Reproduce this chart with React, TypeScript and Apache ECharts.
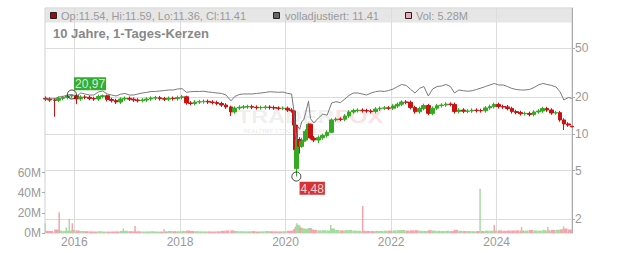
import React, { useEffect, useRef } from 'react';
import * as echarts from 'echarts';

const FONT = '"Liberation Sans", Arial, Helvetica, sans-serif';

// ---- data ----
const dates = [
  '2015-06-15','2015-07-15','2015-08-20','2015-09-15','2015-10-15','2015-11-15','2015-12-15',
  '2016-01-15','2016-02-15','2016-03-15','2016-04-15','2016-05-15','2016-06-15','2016-07-15','2016-08-15','2016-09-15','2016-10-15','2016-11-15','2016-12-15',
  '2017-01-15','2017-02-15','2017-03-15','2017-04-15','2017-05-15','2017-06-15','2017-07-15','2017-08-15','2017-09-15','2017-10-15','2017-11-15','2017-12-15',
  '2018-01-15','2018-02-15','2018-03-15','2018-04-15','2018-05-15','2018-06-15','2018-07-15','2018-08-15','2018-09-15','2018-10-15','2018-11-15','2018-12-20',
  '2019-01-15','2019-02-15','2019-03-15','2019-04-15','2019-05-15','2019-06-15','2019-07-15','2019-08-15','2019-09-15','2019-10-15','2019-11-15','2019-12-15',
  '2020-01-15','2020-02-12','2020-02-28','2020-03-09','2020-03-16','2020-03-26','2020-04-08','2020-04-22','2020-05-06','2020-05-20','2020-06-08','2020-06-22',
  '2020-07-15','2020-08-15','2020-09-15','2020-10-15','2020-11-15','2020-12-15',
  '2021-01-15','2021-02-15','2021-03-15','2021-04-15','2021-05-15','2021-06-15','2021-07-15','2021-08-15','2021-09-15','2021-10-15','2021-11-15','2021-12-15',
  '2022-01-15','2022-02-15','2022-03-15','2022-04-15','2022-05-15','2022-06-15','2022-07-15','2022-08-15','2022-09-15','2022-10-15','2022-11-15','2022-12-15',
  '2023-01-15','2023-02-15','2023-03-15','2023-04-15','2023-05-15','2023-06-15','2023-07-15','2023-08-15','2023-09-15','2023-10-15','2023-11-15','2023-12-15',
  '2024-01-15','2024-02-15','2024-03-15','2024-04-15','2024-05-15','2024-06-15','2024-07-15','2024-08-15','2024-09-15','2024-10-15','2024-11-15','2024-12-15',
  '2025-01-15','2025-02-15','2025-03-15','2025-04-10','2025-05-10','2025-06-04',
];

// [open, close, low, high]
const ohlc = [
  [19.5,19.26,18.6,20.2],[19.26,18.9,18.25,19.9],[18.9,18.8,13.8,19.6],[18.8,19.5,18.15,20.2],[19.5,19.8,18.8,20.5],[19.8,20.4,19.1,20.8],[20.4,20.6,19.7,20.97],
  [20.6,19.3,17.5,20.9],[19.3,20.0,18.6,20.7],[20.0,19.9,19.2,20.7],[19.9,19.45,18.8,20.6],[19.45,19.26,18.6,20.1],[19.26,20.2,18.6,20.9],[20.2,20.5,19.5,20.95],[20.5,19.1,18.4,20.9],[19.1,18.7,18.05,19.75],[18.7,18.2,17.55,19.35],[18.2,19.26,17.55,19.9],[19.26,19.5,18.6,20.2],
  [19.5,19.2,18.55,20.2],[19.2,18.9,18.25,19.85],[18.9,18.7,18.05,19.55],[18.7,18.9,18.05,19.55],[18.9,19.26,18.25,19.9],[19.26,19.6,18.6,20.25],[19.6,19.7,18.9,20.4],[19.7,19.4,18.7,20.4],[19.4,19.2,18.55,20.05],[19.2,19.5,18.55,20.2],[19.5,19.4,18.7,20.2],[19.4,19.8,18.7,20.5],
  [19.8,20.1,19.1,20.8],[20.1,17.9,17.3,20.5],[17.9,17.7,17.1,18.5],[17.7,18.2,17.1,18.85],[18.2,18.3,17.55,18.95],[18.3,18.45,17.65,19.1],[18.45,18.2,17.55,19.1],[18.2,18.0,17.4,18.85],[18.0,17.7,17.1,18.65],[17.7,17.2,16.6,18.3],[17.2,16.6,16.0,17.8],[16.6,15.1,14.0,17.0],
  [15.1,16.25,14.6,16.8],[16.25,16.5,15.7,17.1],[16.5,16.6,15.9,17.2],[16.6,16.7,16.0,17.3],[16.7,16.5,15.9,17.3],[16.5,16.35,15.8,17.1],[16.35,16.4,15.8,17.0],[16.4,16.57,15.8,17.15],[16.57,16.4,15.8,17.15],[16.4,16.25,15.7,17.0],[16.25,16.15,15.6,16.8],[16.15,16.2,15.6,16.75],
  [16.2,15.66,15.1,16.75],[15.66,15.4,14.9,16.2],[15.4,11.8,11.5,15.5],[11.8,7.4,6.1,12.0],[5.2,7.4,4.48,7.8],[7.4,9.0,6.3,9.4],[9.0,7.9,6.9,9.4],[7.9,8.7,7.7,9.3],[8.7,8.9,8.3,9.6],[8.9,10.5,8.7,10.9],[10.5,12.0,10.2,12.3],[12.0,9.25,9.0,12.1],
  [9.25,8.9,8.55,9.6],[8.9,9.3,8.4,9.7],[9.3,9.7,8.95,10.05],[9.7,10.3,9.35,10.7],[10.3,13.0,10.1,13.4],[13.0,13.2,12.55,13.65],
  [13.2,13.15,12.7,13.65],[13.15,14.0,12.7,14.5],[14.0,15.1,13.5,15.6],[15.1,15.5,14.6,16.05],[15.5,15.6,14.95,16.15],[15.6,15.5,14.95,16.15],[15.5,15.37,14.85,16.05],[15.37,15.2,14.65,15.9],[15.2,15.96,14.65,16.5],[15.96,16.2,15.4,16.75],[16.2,16.3,15.65,16.85],[16.3,16.2,15.65,16.85],
  [16.2,16.9,15.65,17.5],[16.9,17.45,16.3,18.05],[17.45,18.2,16.85,18.8],[18.2,18.1,17.45,18.85],[18.1,16.4,15.85,18.7],[16.4,15.15,14.6,16.95],[15.15,16.1,14.6,16.65],[16.1,17.05,15.55,17.65],[17.05,14.7,14.2,17.6],[14.7,16.2,14.2,16.75],[16.2,17.0,15.65,17.6],[17.0,17.2,16.4,17.8],
  [17.2,17.5,16.6,18.1],[17.5,17.4,16.8,18.1],[17.4,15.2,14.65,18.0],[15.2,15.66,14.65,16.2],[15.66,15.3,14.75,16.2],[15.3,15.37,14.75,15.9],[15.37,15.6,14.85,16.15],[15.6,15.5,14.95,16.15],[15.5,15.45,14.9,16.05],[15.45,16.3,14.9,16.85],[16.3,16.7,15.75,17.3],[16.7,17.4,16.1,18.0],
  [17.4,16.7,16.1,18.0],[16.7,16.6,16.0,17.3],[16.6,16.1,15.55,17.2],[16.1,15.2,14.65,16.65],[15.2,14.95,14.45,15.75],[14.95,14.6,14.1,15.45],[14.6,14.7,14.1,15.2],[14.7,14.4,13.9,15.2],[14.4,15.1,13.9,15.6],[15.1,15.37,14.6,15.9],[15.37,16.1,14.85,16.65],[16.1,15.66,15.1,16.65],
  [15.66,14.8,14.3,16.2],[14.8,14.9,14.3,15.4],[14.9,13.0,12.55,15.4],[13.0,12.05,10.75,13.4],[12.05,11.8,11.4,12.45],[11.54,11.41,11.36,11.59],
];

const adjusted = [
  19.26,19.3,19.4,20.0,20.2,20.77,20.97,
  20.3,21.56,21.17,20.77,20.77,21.98,22.39,21.17,20.77,20.38,21.05,21.4,
  20.77,20.77,21.17,21.56,21.8,22.2,22.2,22.39,22.6,22.82,22.82,23.26,
  23.4,21.85,22.1,22.2,22.2,22.3,21.98,21.8,21.56,21.4,20.77,18.6,
  20.2,20.97,21.17,21.17,21.17,21.4,21.56,21.8,22.1,21.98,21.85,21.98,
  21.4,21.17,15.5,10.5,8.7,11.5,10.9,12.6,13.0,15.0,18.5,13.3,
  12.27,13.48,14.5,14.2,17.87,18.3,
  18.0,19.26,20.6,21.56,21.56,21.17,20.77,21.56,22.1,22.39,22.2,22.6,
  23.26,24.37,25.3,24.85,23.1,21.56,23.5,24.37,20.38,23.26,24.37,24.6,
  25.3,24.37,21.56,22.82,22.5,22.3,22.5,23.05,23.69,24.37,25.07,25.8,
  25.07,25.07,24.37,23.5,23.05,22.82,22.82,23.05,23.9,25.07,25.8,25.3,
  24.85,24.14,21.98,18.9,19.8,19.5,
];

// typical daily volume per period, in millions
const volumeM = [
  2.2,2.0,3.5,2.5,2.0,2.2,3.0,
  2.5,2.0,1.8,1.6,1.5,1.8,1.5,1.4,1.5,1.6,2.0,2.2,
  1.8,1.6,1.7,1.5,1.6,1.8,1.5,1.4,1.6,2.0,1.8,1.7,
  2.0,2.4,2.0,1.8,1.7,1.6,1.6,1.5,1.7,2.2,2.5,2.6,
  2.0,1.8,1.7,1.7,1.9,1.6,1.7,2.0,1.8,1.7,1.6,1.8,
  2.2,2.4,4.0,6.0,8.0,6.5,5.0,4.5,4.0,4.2,5.0,3.5,
  3.0,2.6,2.8,2.5,4.5,3.0,
  2.6,2.8,3.0,2.4,2.2,2.2,2.0,1.9,2.1,2.0,2.3,2.4,
  2.6,2.8,3.0,2.4,2.6,2.8,2.2,2.0,2.8,2.4,2.2,2.0,
  2.2,2.0,3.2,2.2,2.0,1.9,1.8,1.9,2.0,2.4,2.2,2.4,
  2.6,2.2,2.4,2.4,2.6,2.5,2.4,3.0,2.6,2.4,2.8,2.6,
  3.0,3.2,3.6,4.5,3.5,3.0,
];

// single-day volume spikes
const spikeDates = ['2015-06-13','2015-09-18','2015-11-06','2015-11-27','2015-12-18','2016-12-05','2017-02-24','2017-09-12','2020-03-20','2020-11-09','2021-06-18','2023-09-08','2023-12-15','2024-06-21','2024-12-20','2025-04-07'];
const spikeVolM = [9.6,20.6,5.5,14.1,9.7,4.5,6.9,3.8,9.6,7.9,26.8,44.0,8.0,6.0,6.0,6.5];
const spikeUp = [true,false,true,true,false,true,false,true,true,true,false,true,false,true,true,true];

const priceTicks = [2, 5, 10, 20, 50];
const yearTicks = ['2016-01-01', '2018-01-01', '2020-01-01', '2022-01-01', '2024-01-01'];
const xMin = '2015-06-12';
const xMax = '2025-06-05';

const extremes = [
  { date: '2015-12-15', value: 20.97, label: '20,97', bg: '#009900', offset: [7.2, -12.2] },
  { date: '2020-03-16', value: 4.48, label: '4,48', bg: '#cc0000', offset: [8.2, 10.2] },
];

const headerTexts = ['Op:11.54, Hi:11.59, Lo:11.36, Cl:11.41', 'volladjustiert: 11.41', 'Vol: 5.28M'];
const headerColors = ['#b30000', '#666666', '#f2a6b0'];
const subtitle = '10 Jahre, 1-Tages-Kerzen';

const UP = '#33aa22';
const DOWN = '#cc1111';
const VOL_UP = '#a6dba0';
const VOL_DOWN = '#f4a4ac';

const ts = (d: string) => Date.parse(d + 'T00:00:00Z');

export default function App() {
  const ref = useRef<HTMLDivElement>(null);
  useEffect(() => {
    if (!ref.current) return;
    const chart = echarts.init(ref.current, undefined, { renderer: 'svg' });

    const candleData = dates.map((d, i) => [ts(d), ohlc[i][0], ohlc[i][1], ohlc[i][2], ohlc[i][3]]);
    const adjData = dates.map((d, i) => [ts(d), adjusted[i]]);
    const volData = dates.map((d, i) => ({
      value: [ts(d), volumeM[i] * 1e6],
      itemStyle: { color: ohlc[i][1] >= ohlc[i][0] ? VOL_UP : VOL_DOWN },
    }));
    const spikeData = spikeDates.map((d, i) => ({
      value: [ts(d), spikeVolM[i] * 1e6],
      itemStyle: { color: spikeUp[i] ? VOL_UP : VOL_DOWN },
    }));
    const markerData = extremes.map((e) => ({
      value: [ts(e.date), e.value],
      label: {
        show: true,
        formatter: e.label,
        position: e.offset,
        backgroundColor: e.bg,
        color: '#fff',
        fontSize: 12,
        lineHeight: 12,
        fontFamily: FONT,
        padding: [1, 1, 0, 1],
      },
    }));
    const yearTs = yearTicks.map(ts);

    const headerX = [[50.5, 61], [273.5, 285], [405.5, 416]];
    const headerGraphics: any[] = [];
    headerTexts.forEach((t, i) => {
      headerGraphics.push({
        type: 'rect',
        shape: { x: headerX[i][0], y: 12.5, width: 6, height: 6 },
        style: { fill: headerColors[i], stroke: '#222', lineWidth: 1 },
        z: 10,
      });
      headerGraphics.push({
        type: 'text',
        x: headerX[i][1],
        y: 15.5,
        style: { text: t, fill: '#9a9a9a', font: `11px ${FONT}`, textVerticalAlign: 'middle' },
        z: 10,
      });
    });

    const option: any = {
      animation: false,
      backgroundColor: '#fff',
      textStyle: { fontFamily: FONT },
      grid: [
        { left: 45, right: 60, top: 8, bottom: 20, show: true, borderColor: '#cfcfcf', borderWidth: 1, backgroundColor: 'transparent' },
        { left: 45, right: 60, top: 172.5, bottom: 20 },
      ],
      xAxis: [
        {
          type: 'value', gridIndex: 0, min: ts(xMin), max: ts(xMax), scale: true,
          axisLine: { show: false }, axisLabel: { show: false },
          axisTick: { show: false, customValues: yearTs },
          splitLine: { show: true, lineStyle: { color: '#dcdcdc', width: 1 } },
        },
        {
          type: 'value', gridIndex: 1, min: ts(xMin), max: ts(xMax), scale: true,
          axisLine: { show: false },
          axisTick: { show: false, customValues: yearTs },
          splitLine: { show: false },
          axisLabel: {
            customValues: yearTs,
            formatter: (v: number) => String(new Date(v).getUTCFullYear()),
            color: '#999', fontSize: 12, margin: 3, fontFamily: FONT,
          },
        },
      ],
      yAxis: [
        {
          type: 'log', gridIndex: 0, position: 'right', logBase: 10,
          min: 1.549, max: 106.7,
          axisLine: { show: true, lineStyle: { color: '#aaaaaa' } },
          axisTick: { show: true, length: 3, customValues: priceTicks, lineStyle: { color: '#aaaaaa' } },
          axisLabel: { customValues: priceTicks, color: '#999', fontSize: 12, margin: 3, fontFamily: FONT, formatter: (v: number) => String(Math.round(v)) },
          splitLine: { show: true, lineStyle: { color: '#dcdcdc' } },
        },
        {
          type: 'value', gridIndex: 1, position: 'left',
          min: 0, max: 60e6, interval: 20e6,
          axisLine: { show: false },
          axisTick: { show: true, length: 3, lineStyle: { color: '#aaaaaa' } },
          axisLabel: { color: '#999', fontSize: 12, margin: 4, fontFamily: FONT, formatter: (v: number) => Math.round(v / 1e6) + 'M' },
          splitLine: { show: false },
        },
      ],
      graphic: [
        { type: 'rect', shape: { x: 45.5, y: 8.5, width: 526.5, height: 14 }, style: { fill: '#e6e6e6' }, z: -10 },
        { type: 'text', x: 237, y: 116.5, scaleX: 1.3, style: { text: 'TRADER', fill: 'rgba(0,0,0,0.085)', font: `bold 18px ${FONT}`, textVerticalAlign: 'middle' }, z: -5 },
        { type: 'text', x: 335, y: 116.5, scaleX: 1.3, style: { text: 'FOX', fill: 'rgba(240,20,50,0.15)', font: `bold 18px ${FONT}`, textVerticalAlign: 'middle' }, z: -5 },
        { type: 'text', x: 243, y: 131, style: { text: 'REALTIME STOCK SCREENER', fill: 'rgba(0,0,0,0.09)', font: `bold 6px ${FONT}`, textVerticalAlign: 'middle' }, z: -5 },
        { type: 'text', x: 53, y: 33.5, style: { text: subtitle, fill: '#888', font: `bold 13px ${FONT}`, textVerticalAlign: 'middle' }, z: 10 },
        ...headerGraphics,
      ],
      series: [
        {
          type: 'bar', name: 'Vol', xAxisIndex: 1, yAxisIndex: 1, data: volData,
          barWidth: 4.2, barGap: '-100%',
        },
        {
          type: 'bar', name: 'VolSpike', xAxisIndex: 1, yAxisIndex: 1, data: spikeData,
          barWidth: 1.5, barGap: '-100%',
        },
        {
          type: 'candlestick', name: 'Kurs', xAxisIndex: 0, yAxisIndex: 0,
          data: candleData, encode: { x: 0, y: [1, 2, 3, 4] }, barWidth: 4.2,
          itemStyle: { color: UP, color0: DOWN, borderColor: UP, borderColor0: DOWN, borderWidth: 1 },
        },
        {
          type: 'line', name: 'volladjustiert', xAxisIndex: 0, yAxisIndex: 0,
          data: adjData, showSymbol: false, symbol: 'none',
          lineStyle: { color: '#7a7a7a', width: 1 },
        },
        {
          type: 'scatter', name: 'Extrema', xAxisIndex: 0, yAxisIndex: 0,
          data: markerData, symbol: 'circle', symbolSize: 9,
          itemStyle: { color: 'rgba(0,0,0,0)', borderColor: '#111', borderWidth: 1 },
          z: 5,
        },
      ],
    };
    chart.setOption(option);
    return () => chart.dispose();
  }, []);
  return <div ref={ref} style={{ position: 'absolute', left: 0, top: 0, width: 632, height: 253 }} />;
}
